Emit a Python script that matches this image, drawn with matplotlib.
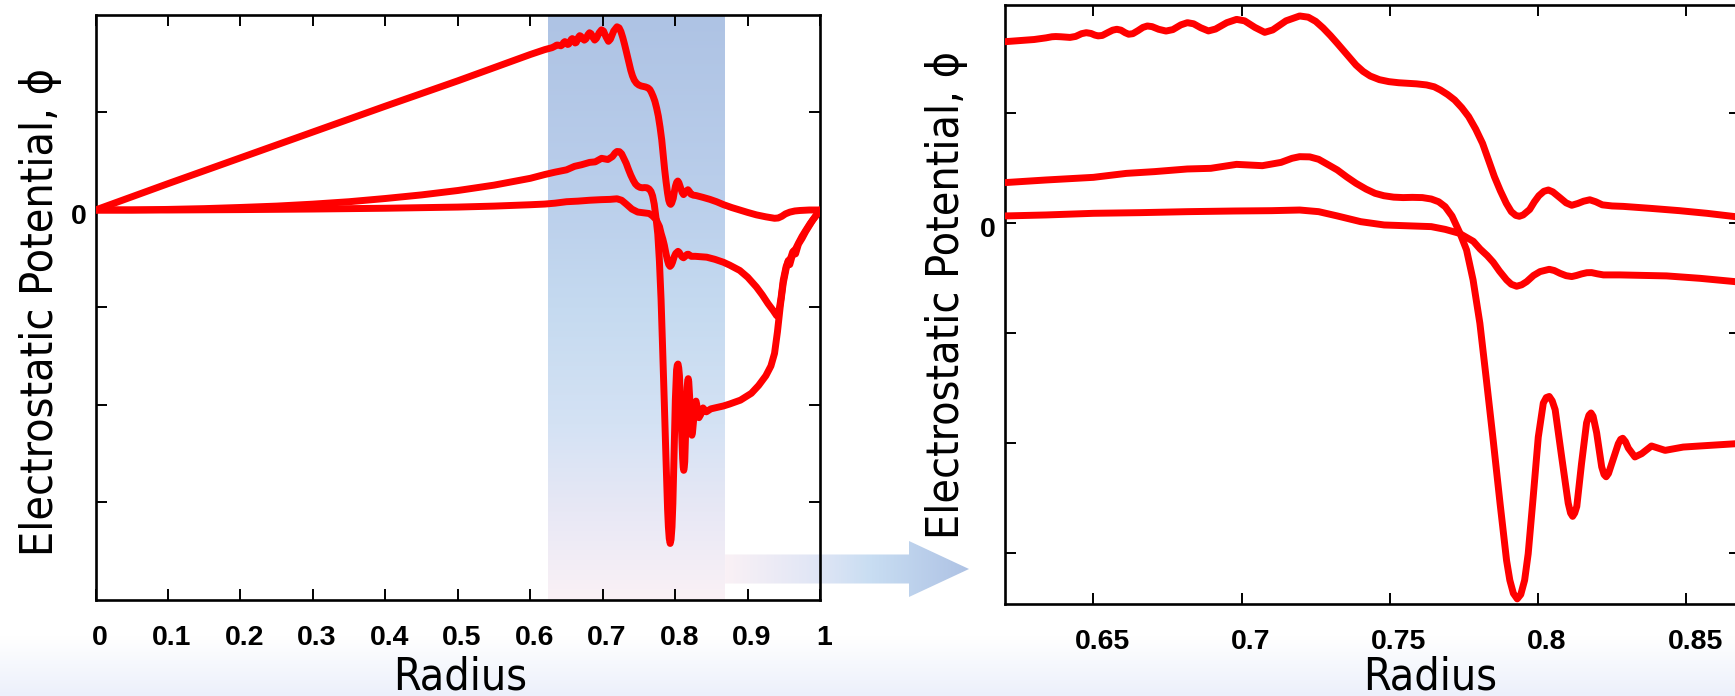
import numpy as np
import matplotlib
matplotlib.use("Agg")
import matplotlib.pyplot as plt
import matplotlib.transforms as mtransforms
from matplotlib.patches import Polygon
from matplotlib.font_manager import FontProperties, fontManager

# ---------------------------------------------------------------------------
# Radial electrostatic potential profiles (one unit = one y tick interval)
# ---------------------------------------------------------------------------
r_a = [0.0, 0.1, 0.2, 0.3, 0.4, 0.5, 0.6,
       0.620, 0.625, 0.630, 0.634, 0.636, 0.6373, 0.639, 0.6421, 0.644, 0.646,
       0.6476, 0.6492, 0.6505, 0.6516, 0.653, 0.655, 0.6565, 0.6579, 0.6593,
       0.6607, 0.6619, 0.6633, 0.665, 0.6667, 0.6682, 0.6698, 0.672, 0.6745,
       0.6768, 0.6795, 0.6817, 0.6838, 0.6862, 0.6888, 0.6912, 0.695, 0.6983,
       0.701, 0.7045, 0.7078, 0.7105, 0.715, 0.7196, 0.7225, 0.725, 0.7275,
       0.730, 0.7323, 0.7355, 0.7386, 0.741, 0.7434, 0.7465, 0.7497, 0.753,
       0.756, 0.759, 0.7624, 0.765, 0.7671, 0.7695, 0.7719, 0.7743, 0.7766, 0.779,
       0.7813, 0.7833, 0.7853, 0.7873, 0.7893, 0.791, 0.7925, 0.7937, 0.795,
       0.7972, 0.7988, 0.8003, 0.802, 0.8035, 0.805, 0.8075, 0.8095, 0.8114,
       0.8135, 0.8154, 0.8175, 0.8195, 0.8217, 0.825, 0.8288, 0.838, 0.8478,
       0.857, 0.8665, 0.878, 0.889, 0.900, 0.912, 0.925, 0.937, 0.942, 0.947,
       0.952, 0.958, 0.965, 0.972, 0.985, 1.0]
phi_a = [0.0, 0.27, 0.535, 0.80, 1.065, 1.325, 1.595,
         1.645, 1.655, 1.665, 1.680, 1.690, 1.692, 1.690, 1.684, 1.693, 1.718,
         1.727, 1.720, 1.705, 1.698, 1.702, 1.730, 1.750, 1.758, 1.750,
         1.727, 1.713, 1.718, 1.745, 1.775, 1.788, 1.782, 1.758, 1.742,
         1.755, 1.798, 1.818, 1.808, 1.772, 1.743, 1.760, 1.818, 1.848,
         1.835, 1.775, 1.730, 1.752, 1.835, 1.879, 1.868, 1.830, 1.770,
         1.700, 1.630, 1.530, 1.433, 1.375, 1.333, 1.300, 1.282, 1.272,
         1.267, 1.262, 1.252, 1.235, 1.206, 1.165, 1.115, 1.045, 0.964, 0.850,
         0.721, 0.570, 0.418, 0.290, 0.176, 0.100, 0.066, 0.058, 0.070,
         0.120, 0.190, 0.245, 0.285, 0.297, 0.280, 0.225, 0.180, 0.158,
         0.175, 0.195, 0.208, 0.190, 0.162, 0.152, 0.148, 0.130, 0.109,
         0.085, 0.055, 0.025, 0.0, -0.025, -0.050, -0.070, -0.085, -0.082, -0.065,
         -0.040, -0.022, -0.010, -0.005, 0.0, 0.0]

r_b = [0.0, 0.05, 0.1, 0.15, 0.2, 0.25, 0.3, 0.35, 0.4, 0.45, 0.5, 0.55, 0.6,
       0.620, 0.634, 0.650, 0.6611, 0.6706, 0.6817, 0.6896, 0.6983, 0.707, 0.7133,
       0.717, 0.7196, 0.723, 0.726, 0.729, 0.7323, 0.7355, 0.7386, 0.742, 0.745,
       0.748, 0.7513, 0.7545, 0.7576, 0.761, 0.764, 0.7665, 0.7687, 0.771, 0.7737,
       0.7759, 0.7781, 0.7804, 0.7826, 0.7849, 0.7872, 0.7894, 0.7905, 0.7917,
       0.793, 0.7942, 0.7955, 0.7967, 0.7984, 0.8001, 0.8018, 0.8028, 0.8038,
       0.8048, 0.8058, 0.808, 0.8102, 0.811, 0.8117, 0.8124, 0.8131, 0.8147,
       0.8164, 0.8172, 0.8179, 0.8186, 0.8198, 0.8215, 0.8223, 0.823, 0.8238,
       0.8249, 0.8271, 0.8279, 0.8286, 0.8295, 0.8305, 0.8327, 0.835, 0.8383,
       0.8406, 0.8429, 0.849, 0.8547, 0.8665, 0.875, 0.890, 0.905, 0.915, 0.925,
       0.932, 0.937, 0.941, 0.945, 0.949, 0.953, 0.956, 0.958, 0.961, 0.964,
       0.966, 0.970, 0.975, 0.980, 0.985, 0.990, 0.995, 1.0]
phi_b = [0.0, 0.0, 0.006, 0.014, 0.026, 0.040, 0.060, 0.085, 0.118, 0.155, 0.200,
         0.255, 0.325,
         0.364, 0.388, 0.412, 0.448, 0.464, 0.488, 0.494, 0.530, 0.518, 0.548,
         0.585, 0.600, 0.598, 0.576, 0.530, 0.479, 0.415, 0.358, 0.305, 0.267,
         0.245, 0.232, 0.228, 0.230, 0.228, 0.215, 0.190, 0.145, 0.060, -0.097,
         -0.248, -0.520, -0.915, -1.430, -1.980, -2.550, -3.070, -3.250, -3.370,
         -3.420, -3.380, -3.250, -3.010, -2.490, -1.950, -1.640, -1.590, -1.580,
         -1.620, -1.700, -2.130, -2.550, -2.640, -2.670, -2.640, -2.580, -2.190,
         -1.820, -1.750, -1.730, -1.760, -1.910, -2.220, -2.290, -2.310, -2.280,
         -2.190, -2.010, -1.970, -1.960, -1.990, -2.050, -2.130, -2.100, -2.030,
         -2.050, -2.070, -2.040, -2.030, -2.010, -1.990, -1.950, -1.880, -1.800,
         -1.700, -1.600, -1.470, -1.250, -0.980, -0.750, -0.600, -0.520, -0.560,
         -0.480, -0.420, -0.450, -0.350, -0.290, -0.220, -0.160, -0.100, -0.050,
         0.0]

r_c = [0.0, 0.1, 0.2, 0.3, 0.4, 0.5, 0.55, 0.6,
       0.620, 0.634, 0.650, 0.6658, 0.6817, 0.6975, 0.7101, 0.7196, 0.726, 0.7323,
       0.7402, 0.7481, 0.7576, 0.764, 0.7687, 0.7735, 0.7782, 0.7805, 0.7829,
       0.7849, 0.787, 0.7894, 0.791, 0.7928, 0.7945, 0.7962, 0.7985, 0.8007,
       0.8038, 0.8055, 0.8074, 0.8095, 0.8114, 0.813, 0.8147, 0.8165, 0.8181,
       0.820, 0.8221, 0.8277, 0.8434, 0.8547, 0.8665, 0.875, 0.889, 0.900, 0.912,
       0.920, 0.928, 0.935, 0.940, 0.943, 0.946, 0.949, 0.953, 0.956, 0.959,
       0.962, 0.966, 0.970, 0.975, 0.980, 0.986, 0.993, 1.0]
phi_c = [0.0, 0.0, 0.004, 0.010, 0.018, 0.030, 0.040, 0.054,
         0.061, 0.070, 0.085, 0.091, 0.100, 0.106, 0.109, 0.115, 0.100, 0.061,
         0.009, -0.021, -0.030, -0.036, -0.061, -0.097, -0.170, -0.240, -0.300,
         -0.360, -0.440, -0.520, -0.560, -0.578, -0.565, -0.536, -0.480, -0.445,
         -0.424, -0.435, -0.460, -0.482, -0.490, -0.480, -0.466, -0.455, -0.454,
         -0.465, -0.475, -0.475, -0.484, -0.506, -0.536, -0.565, -0.620, -0.690,
         -0.790, -0.870, -0.960, -1.030, -1.085, -1.040, -0.900, -0.720, -0.580,
         -0.520, -0.500, -0.430, -0.400, -0.340, -0.270, -0.210, -0.140, -0.070,
         0.0]

# Axis ticks and labels
x_ticks_full = [0.0, 0.1, 0.2, 0.3, 0.4, 0.5, 0.6, 0.7, 0.8, 0.9, 1.0]
x_labels_full = ['0', '0.1', '0.2', '0.3', '0.4', '0.5', '0.6', '0.7', '0.8',
                 '0.9', '1']
x_ticks_zoom = [0.65, 0.70, 0.75, 0.80, 0.85]
x_labels_zoom = ['0.65', '0.7', '0.75', '0.8', '0.85']
y_ticks = [-3, -2, -1, 0, 1]
y_labels = ['', '', '', '0', '']

full_xlim = (0.0, 1.0)
full_ylim = (-4.0, 2.0)
zoom_xlim = (0.62, 0.868)
zoom_ylim = (-3.463, 1.976)
band_x = (0.624, 0.868)

x_title = 'Radius'
y_title = 'Electrostatic Potential, \u03d5'

LINE_RED = '#ff0000'

# ---------------------------------------------------------------------------
# Fonts
# ---------------------------------------------------------------------------
def condensed_sans(size):
    for f in fontManager.ttflist:
        if f.fname.endswith('DejaVuSansCondensed.ttf'):
            return FontProperties(fname=f.fname, size=size)
    return FontProperties(family=['Liberation Sans', 'DejaVu Sans'], size=size)

title_font = condensed_sans(32)
tick_family = ['Liberation Sans', 'DejaVu Sans']

# ---------------------------------------------------------------------------
# Figure, in pixel units
# ---------------------------------------------------------------------------
W, H = 1735, 696
fig = plt.figure(figsize=(W / 100, H / 100), dpi=100)
fig.patch.set_facecolor('white')


def box(left, top, right, bottom):
    return [left / W, 1 - bottom / H, (right - left) / W, (bottom - top) / H]


# background layer: soft bottom fade and the zoom arrow
bg = fig.add_axes([0, 0, 1, 1], zorder=-1)
bg.set_xlim(0, W)
bg.set_ylim(H, 0)
bg.axis('off')

fade_t = np.linspace(0, 1, 64)
fade_top = np.array([255, 255, 255]) / 255
fade_bot = np.array([236, 240, 251]) / 255
fade = (fade_top[None, :] * (1 - fade_t[:, None]) + fade_bot[None, :] * fade_t[:, None])
bg.imshow(fade[:, None, :], extent=(0, W, H, 636), aspect='auto',
          interpolation='bilinear', zorder=0)

arrow_pts = [(725, 554.5), (909, 554.5), (909, 541), (969, 569),
             (909, 597), (909, 583.5), (725, 583.5)]
arrow = Polygon(arrow_pts, closed=True, facecolor='none', edgecolor='none')
bg.add_patch(arrow)
a_pos = [0.0, 0.4, 0.6, 1.0]
a_col = np.array([(250, 241, 246), (222, 229, 245), (200, 221, 242),
                  (174, 194, 228)]) / 255
a_t = np.linspace(0, 1, 200)
a_img = np.stack([np.interp(a_t, a_pos, a_col[:, k]) for k in range(3)], axis=-1)
im = bg.imshow(a_img[None, :, :], extent=(725, 969, 597, 541), aspect='auto',
               interpolation='bilinear', zorder=1)
im.set_clip_path(arrow)
bg.set_xlim(0, W)
bg.set_ylim(H, 0)

# main panels
ax1 = fig.add_axes(box(95.5, 15, 820.2, 600), zorder=1)
ax2 = fig.add_axes(box(1004.5, 5.3, 1739.5, 603.6), zorder=1)
for ax in (ax1, ax2):
    ax.set_facecolor('none')

# shaded zoom window on the full-range panel
b_pos = [0.0, 0.3, 0.5, 0.7, 0.85, 1.0]
b_col = np.array([(174, 195, 228), (186, 206, 235), (197, 218, 240),
                  (212, 226, 244), (232, 232, 245), (250, 241, 246)]) / 255
b_t = np.linspace(0, 1, 300)
b_img = np.stack([np.interp(b_t, b_pos, b_col[:, k]) for k in range(3)], axis=-1)
ax1.imshow(b_img[:, None, :], extent=(band_x[0], band_x[1], full_ylim[0], full_ylim[1]),
           aspect='auto', origin='upper', interpolation='bilinear', zorder=0.5)

for ax in (ax1, ax2):
    for r, phi in ((r_a, phi_a), (r_b, phi_b), (r_c, phi_c)):
        ax.plot(r, phi, color=LINE_RED, lw=5.0, solid_joinstyle='round',
                solid_capstyle='round', zorder=3)

ax1.set_xlim(*full_xlim)
ax1.set_ylim(*full_ylim)
ax2.set_xlim(*zoom_xlim)
ax2.set_ylim(*zoom_ylim)

ax1.set_xticks(x_ticks_full, x_labels_full)
ax2.set_xticks(x_ticks_zoom, x_labels_zoom)

for ax, dx in ((ax1, 4), (ax2, 9)):
    ax.set_yticks(y_ticks, y_labels)
    for s in ax.spines.values():
        s.set_linewidth(1.9)
        s.set_color('black')
    ax.tick_params(direction='in', length=8, width=1.4, top=True, right=True,
                   colors='black', labelsize=20.5, labelfontfamily=tick_family)
    ax.tick_params(axis='x', pad=18)
    ax.tick_params(axis='y', pad=6.5)
    shift_x = mtransforms.ScaledTranslation(dx / 100, 0, fig.dpi_scale_trans)
    shift_y = mtransforms.ScaledTranslation(0, -4 / 100, fig.dpi_scale_trans)
    for lab in ax.get_xticklabels():
        lab.set_fontweight('bold')
        lab.set_transform(lab.get_transform() + shift_x)
    for lab in ax.get_yticklabels():
        lab.set_fontweight('bold')
        lab.set_transform(lab.get_transform() + shift_y)

# axis titles
fig.text(460 / W, 1 - 690 / H, x_title, ha='center', va='baseline',
         fontproperties=title_font)
fig.text(1430 / W, 1 - 690 / H, x_title, ha='center', va='baseline',
         fontproperties=title_font)
fig.text(53 / W, 1 - 312 / H, y_title, rotation=90, rotation_mode='anchor',
         ha='center', va='baseline', fontproperties=title_font)
fig.text(959 / W, 1 - 295 / H, y_title, rotation=90, rotation_mode='anchor',
         ha='center', va='baseline', fontproperties=title_font)

fig.savefig('out.png', dpi=100, facecolor='white')
